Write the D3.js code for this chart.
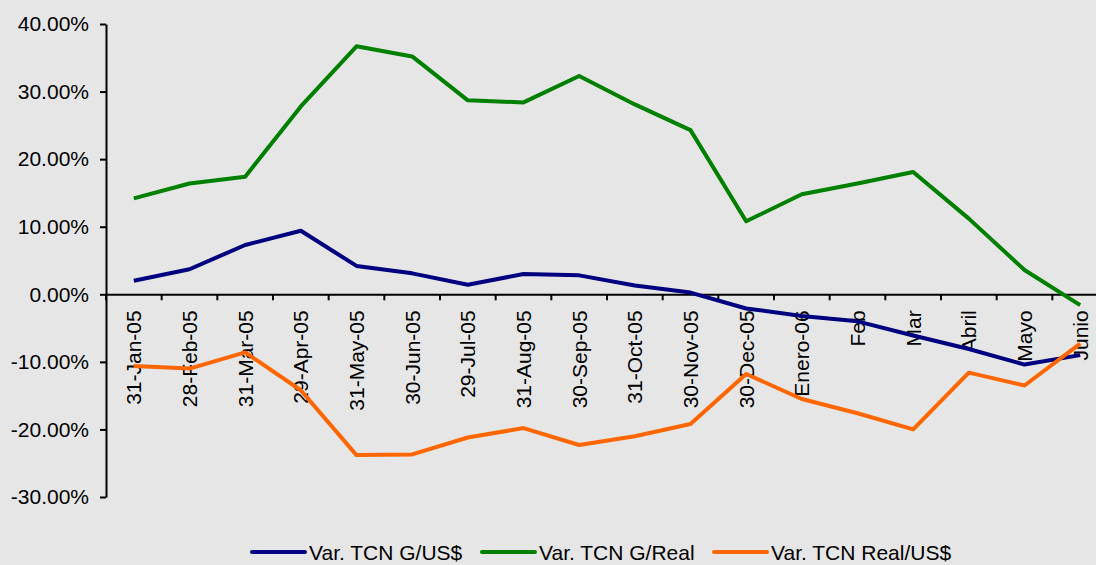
<!DOCTYPE html>
<html>
<head>
<meta charset="utf-8">
<script src="https://cdnjs.cloudflare.com/ajax/libs/d3/7.8.5/d3.min.js"></script>
<style>
  body { margin: 0; background: #e6e6e6; overflow: hidden; }
  svg { display: block; font-family: "Liberation Sans", Arial, sans-serif; }
</style>
</head>
<body>
<div class="content-container"></div>
<script>
    const categories = ["31-Jan-05", "28-Feb-05", "31-Mar-05", "29-Apr-05", "31-May-05", "30-Jun-05", "29-Jul-05", "31-Aug-05", "30-Sep-05", "31-Oct-05", "30-Nov-05", "30-Dec-05", "Enero-06", "Feb", "Mar", "Abril", "Mayo", "Junio"];
    const gUsd = [2.0, 3.7, 7.3, 9.4, 4.2, 3.1, 1.4, 3.0, 2.8, 1.3, 0.25, -2.1, -3.2, -4.0, -6.1, -8.1, -10.4, -9.0];
    const gReal = [14.2, 16.4, 17.4, 27.8, 36.7, 35.2, 28.7, 28.4, 32.3, 28.1, 24.3, 10.8, 14.8, 16.4, 18.1, 11.2, 3.6, -1.6];
    const realUsd = [-10.6, -11.0, -8.6, -14.2, -23.8, -23.7, -21.2, -19.8, -22.3, -21.0, -19.2, -11.8, -15.5, -17.6, -20.0, -11.6, -13.5, -7.3];
    const yTicks = [40, 30, 20, 10, 0, -10, -20, -30];
    const seriesNames = ["Var. TCN G/US$", "Var. TCN G/Real", "Var. TCN Real/US$"];
    const seriesColors = ["#000080", "#008000", "#ff6600"];

    const width = 1096;
    const height = 565;
    const xLeft = 106;
    const xRight = 1108;
    const yTop = 24;
    const yBottom = 497;
    const fontSize = "21px";

    const series = [gUsd, gReal, realUsd];

    // SCALES
    const xScale = d3.scaleBand()
                     .domain(categories)
                     .range([xLeft, xRight]);

    const yScale = d3.scaleLinear()
                     .domain([-30, 40])
                     .range([yBottom, yTop]);

    const chart = d3.select(".content-container")
                  .append("svg")
                  .attr("width", width)
                  .attr("height", height);

    chart.append("rect")
      .attr("width", width)
      .attr("height", height)
      .attr("fill", "#e6e6e6");

    // LINES
    const line = d3.line()
      .x((d, i) => xScale(categories[i]) + xScale.bandwidth() / 2)
      .y((d) => yScale(d));

    // X AXIS (at zero)
    const xAxis = d3.axisBottom(xScale).tickSize(6).tickSizeOuter(0);

    const gx = chart.append("g")
      .attr("transform", "translate(0," + yScale(0) + ")")
      .call(xAxis);

    gx.select(".domain").attr("stroke", "#000").attr("stroke-width", 2);
    gx.selectAll(".tick line")
      .attr("stroke", "#000")
      .attr("stroke-width", 2)
      .attr("transform", "translate(" + (-xScale.bandwidth() / 2) + ",0)");
    gx.selectAll(".tick text")
      .attr("transform", "rotate(-90)")
      .attr("text-anchor", "end")
      .attr("x", -16)
      .attr("y", 0)
      .attr("dy", "0.35em")
      .style("font-size", fontSize)
      .style("fill", "#000");

    // Y AXIS
    const yAxis = d3.axisLeft(yScale)
      .tickValues(yTicks)
      .tickSize(6)
      .tickSizeOuter(0)
      .tickFormat((d) => d.toFixed(2) + "%");

    const gy = chart.append("g")
      .attr("transform", "translate(" + xLeft + ",0)")
      .call(yAxis);

    gy.select(".domain").attr("stroke", "#000").attr("stroke-width", 2);
    gy.selectAll(".tick line").attr("stroke", "#000").attr("stroke-width", 2);
    gy.selectAll(".tick text")
      .attr("x", -17)
      .style("font-size", fontSize)
      .style("fill", "#000");

    chart.selectAll(".series")
      .data(series)
      .enter()
      .append("path")
      .attr("class", "series")
      .attr("d", (d) => line(d))
      .attr("fill", "none")
      .attr("stroke", (d, i) => seriesColors[i])
      .attr("stroke-width", 4)
      .attr("stroke-linejoin", "round");

    // LEGEND
    const legendX = [250, 480, 712];

    const legend = chart.selectAll(".legend")
      .data(seriesNames)
      .enter()
      .append("g")
      .attr("class", "legend")
      .attr("transform", (d, i) => "translate(" + legendX[i] + ",552)");

    legend.append("line")
      .attr("x1", 2)
      .attr("x2", 55)
      .attr("stroke", (d, i) => seriesColors[i])
      .attr("stroke-width", 4)
      .attr("stroke-linecap", "round");

    legend.append("text")
      .attr("x", 59)
      .attr("y", 8)
      .style("font-size", fontSize)
      .style("fill", "#000")
      .text((d) => d);
</script>
</body>
</html>
